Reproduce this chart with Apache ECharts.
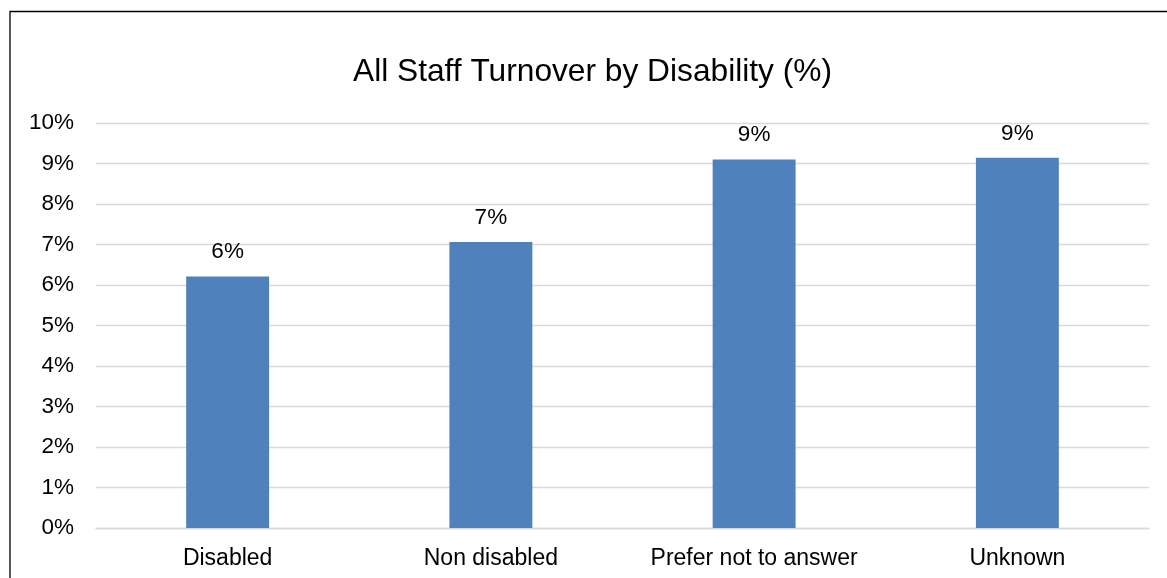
<!DOCTYPE html>
<html>
<head>
<meta charset="utf-8">
<script src="https://cdn.jsdelivr.net/npm/echarts@6/dist/echarts.min.js"></script>
<style>
html,body{margin:0;padding:0;background:#fff;}
#chart{width:1167px;height:578px;}
</style>
</head>
<body>
<div id="chart"></div>
<script>
const titleText = 'All Staff Turnover by Disability (%)';
const categories = ['Disabled', 'Non disabled', 'Prefer not to answer', 'Unknown'];
const turnover = [6.21, 7.06, 9.10, 9.14];
const yTicks = [0, 1, 2, 3, 4, 5, 6, 7, 8, 9, 10];

const FONT = '"Liberation Sans", Arial, sans-serif';
const chart = echarts.init(document.getElementById('chart'), null, {renderer: 'canvas'});
chart.setOption({
  animation: false,
  backgroundColor: '#ffffff',
  graphic: [{
    type: 'rect',
    shape: {x: 10, y: 11.5, width: 1300, height: 700},
    style: {fill: 'none', stroke: '#000000', lineWidth: 1.3},
    silent: true
  }],
  title: {
    text: titleText,
    left: 348,
    top: 51,
    textStyle: {fontFamily: FONT, fontSize: 31.7, fontWeight: 'normal', color: '#000000'}
  },
  grid: {left: 96, right: 18, top: 123, bottom: 50, containLabel: false},
  xAxis: {
    type: 'category',
    data: categories,
    axisLine: {show: true, lineStyle: {color: '#d9d9d9', width: 1.3}},
    axisTick: {show: false},
    axisLabel: {fontFamily: FONT, fontSize: 23, color: '#000000', margin: 19, interval: 0, hideOverlap: false}
  },
  yAxis: {
    type: 'value',
    min: yTicks[0],
    max: yTicks[yTicks.length - 1],
    interval: 1,
    axisLine: {show: false},
    axisTick: {show: false},
    splitLine: {show: true, lineStyle: {color: '#d9d9d9', width: 1.3}},
    axisLabel: {fontFamily: FONT, fontSize: 22.5, color: '#000000', margin: 22, formatter: v => v + '%'}
  },
  series: [{
    type: 'bar',
    data: turnover,
    barWidth: '31.5%',
    itemStyle: {color: '#4f81bd'},
    label: {
      show: true,
      position: 'top',
      distance: 13,
      fontFamily: FONT,
      fontSize: 22.5,
      color: '#000000',
      formatter: p => Math.round(p.value) + '%'
    }
  }]
});
</script>
</body>
</html>
